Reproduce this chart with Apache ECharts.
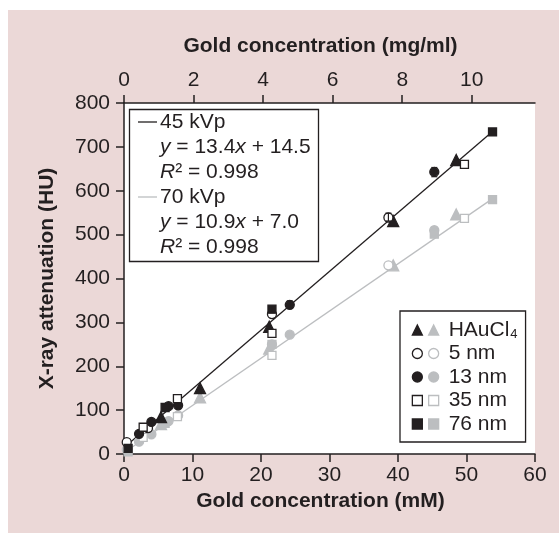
<!DOCTYPE html>
<html><head><meta charset="utf-8">
<script src="https://cdn.jsdelivr.net/npm/echarts@6/dist/echarts.min.js"></script>
<style>html,body{margin:0;padding:0;background:#fff}#c{width:559px;height:533px}</style>
</head><body><div id="c"></div>
<script>
// ---------- data (mM, HU) ----------
const yTicks = [0, 100, 200, 300, 400, 500, 600, 700, 800];
const mMTicks = [0, 10, 20, 30, 40, 50, 60];
const mgTicks = [0, 2, 4, 6, 8, 10];
const mgPerMM = 0.19697; // gold: 196.97 g/mol

// 45 kVp (black)
const hauX45 = [5.4, 11.1, 21.2, 39.3, 48.5];
const hauY45 = [84, 150, 290, 531, 670];
const nm5X45 = [0.4, 3.5, 21.6, 38.6];
const nm5Y45 = [27, 59, 319, 539];
const nm13X45 = [2.2, 4.0, 6.5, 7.9, 24.2, 45.3];
const nm13Y45 = [46, 73, 109, 111, 340, 643];
const nm35X45 = [2.8, 7.8, 21.6, 49.7];
const nm35Y45 = [61, 126, 275, 660];
const nm76X45 = [0.6, 6.0, 21.6, 53.8];
const nm76Y45 = [13, 106, 330, 734];

// 70 kVp (grey)
const hauX70 = [5.4, 11.1, 21.2, 39.3, 48.5];
const hauY70 = [68, 129, 240, 430, 546];
const nm5X70 = [0.4, 3.5, 21.6, 38.6];
const nm5Y70 = [10, 50, 250, 430];
const nm13X70 = [2.2, 4.0, 6.5, 7.9, 24.2, 45.3];
const nm13Y70 = [28, 45, 75, 88, 272, 510];
const nm35X70 = [2.8, 7.8, 21.6, 49.7];
const nm35Y70 = [38, 85, 225, 537];
const nm76X70 = [0.6, 6.0, 21.6, 45.3, 53.8];
const nm76Y70 = [5, 70, 250, 501, 580];

// fitted lines (end points)
const fit45X = [0.2, 53.8];
const fit45Y = [17, 735];
const fit70X = [0.2, 53.8];
const fit70Y = [5, 582];

// error bars
const err45X = [21.6, 24.2, 38.6, 45.3];
const err45Lo = [322, 332, 531, 632];
const err45Hi = [337, 349, 549, 653];
const err70X = [45.3];
const err70Lo = [496];
const err70Hi = [516];

const legendLabels = ['HAuCl{sub|4}', '5 nm', '13 nm', '35 nm', '76 nm'];

// ---------- styling ----------
const FONT = '"Liberation Sans", Arial, Helvetica, sans-serif';
const INK = '#231f20';
const GREY = '#bcbec0';
const PINK = '#ebd8d7';
const FS = 21;

function pts(xs, ys) { return xs.map((x, i) => [x, ys[i]]); }

function scat(name, xs, ys, symbol, size, color, open) {
  return {
    type: 'scatter', name: name, data: pts(xs, ys), symbol: symbol, symbolSize: size,
    xAxisIndex: 0, yAxisIndex: 0, z: color === INK ? 4 : 3,
    itemStyle: { color: open ? '#ffffff' : color, borderColor: color, borderWidth: 1.3, opacity: 1 },
    emphasis: { disabled: true }
  };
}
function fitLine(name, xs, ys, color) {
  return {
    type: 'line', name: name, data: pts(xs, ys), symbol: 'none', z: 2,
    lineStyle: { color: color, width: 1.3 }, emphasis: { disabled: true }
  };
}
function errBars(name, xs, lo, hi, color) {
  return {
    type: 'custom', name: name, z: 5,
    data: xs.map((x, i) => [x, lo[i], hi[i]]),
    renderItem: function (params, api) {
      const a = api.coord([api.value(0), api.value(1)]);
      const b = api.coord([api.value(0), api.value(2)]);
      const w = 3;
      const st = { stroke: color, lineWidth: 1.2 };
      return { type: 'group', children: [
        { type: 'line', shape: { x1: a[0], y1: a[1], x2: b[0], y2: b[1] }, style: st },
        { type: 'line', shape: { x1: a[0] - w, y1: a[1], x2: a[0] + w, y2: a[1] }, style: st },
        { type: 'line', shape: { x1: b[0] - w, y1: b[1], x2: b[0] + w, y2: b[1] }, style: st }
      ]};
    }
  };
}

const blackNames = ['b0', 'b1', 'b2', 'b3', 'b4'];
const greyNames = ['g0', 'g1', 'g2', 'g3', 'g4'];

const series = [
  fitLine('fit70', fit70X, fit70Y, GREY),
  fitLine('fit45', fit45X, fit45Y, INK),
  scat('g0', hauX70, hauY70, 'triangle', 11, GREY, false),
  scat('g1', nm5X70, nm5Y70, 'circle', 9, GREY, true),
  scat('g2', nm13X70, nm13Y70, 'circle', 9, GREY, false),
  scat('g3', nm35X70, nm35Y70, 'rect', 8, GREY, true),
  scat('g4', nm76X70, nm76Y70, 'rect', 8, GREY, false),
  errBars('e70', err70X, err70Lo, err70Hi, GREY),
  scat('b0', hauX45, hauY45, 'triangle', 11, INK, false),
  scat('b1', nm5X45, nm5Y45, 'circle', 9, INK, true),
  scat('b2', nm13X45, nm13Y45, 'circle', 9, INK, false),
  scat('b3', nm35X45, nm35Y45, 'rect', 8, INK, true),
  scat('b4', nm76X45, nm76Y45, 'rect', 8, INK, false),
  errBars('e45', err45X, err45Lo, err45Hi, INK)
];

function legendText(color) {
  return {
    fontFamily: FONT, fontSize: FS, color: color, lineHeight: 22, padding: [0, 0, 0, 5],
    rich: { sub: { fontFamily: FONT, fontSize: 13, color: color, verticalAlign: 'bottom', lineHeight: 22, padding: [9, 0, 0, 1] } }
  };
}
function legendFmt(name) { return legendLabels[Number(name.slice(1))]; }

const axisLineStyle = { color: INK, width: 1.5 };
const labelStyle = { fontFamily: FONT, fontSize: FS, color: INK };
const nameStyle = { fontFamily: FONT, fontSize: FS, fontWeight: 'bold', color: INK };
const xNameStyle = { ...nameStyle, padding: [0, 18, 0, 0] };
const italic = { i: { fontStyle: 'italic', fontFamily: FONT, fontSize: FS, fill: INK } };

const option = {
  animation: false,
  backgroundColor: '#ffffff',
  grid: { left: 124, top: 103, right: 24, bottom: 79, show: true, backgroundColor: '#ffffff', borderWidth: 0, containLabel: false },
  xAxis: [
    {
      type: 'value', position: 'bottom', min: mMTicks[0], max: mMTicks[mMTicks.length - 1], interval: 10,
      name: 'Gold concentration (mM)', nameLocation: 'middle', nameGap: 33, nameTextStyle: xNameStyle,
      axisLine: { show: true, onZero: false, lineStyle: axisLineStyle },
      axisTick: { show: true, length: 8, lineStyle: axisLineStyle },
      axisLabel: { margin: 11, ...labelStyle },
      splitLine: { show: false }
    },
    {
      type: 'value', position: 'top', min: 0, max: mMTicks[mMTicks.length - 1] * mgPerMM,
      name: 'Gold concentration (mg/ml)', nameLocation: 'middle', nameGap: 46, nameTextStyle: xNameStyle,
      axisLine: { show: true, onZero: false, lineStyle: axisLineStyle },
      axisTick: { show: true, length: 8, lineStyle: axisLineStyle, customValues: mgTicks },
      axisLabel: { margin: 12, ...labelStyle, customValues: mgTicks },
      splitLine: { show: false }
    }
  ],
  yAxis: {
    type: 'value', min: yTicks[0], max: yTicks[yTicks.length - 1], interval: 100,
    name: 'X-ray attenuation (HU)', nameLocation: 'middle', nameGap: 66, nameTextStyle: nameStyle,
    axisLine: { show: true, onZero: false, lineStyle: axisLineStyle },
    axisTick: { show: true, length: 8, lineStyle: axisLineStyle },
    axisLabel: { margin: 14, ...labelStyle },
    splitLine: { show: false }
  },
  legend: [
    {
      data: greyNames, orient: 'vertical', left: 400, top: 311, padding: [8, 8, 7, 28],
      itemWidth: 10, itemHeight: 10, itemGap: 1.5, selectedMode: false,
      borderColor: INK, borderWidth: 1.3, backgroundColor: '#ffffff',
      formatter: legendFmt, textStyle: legendText(INK),
      itemStyle: { borderWidth: 1.3 }, z: 6
    },
    {
      data: blackNames, orient: 'vertical', left: 411.7, top: 311, padding: [8, 0, 7, 0],
      itemWidth: 10, itemHeight: 10, itemGap: 1.5, selectedMode: false,
      formatter: legendFmt, textStyle: legendText('rgba(0,0,0,0)'),
      itemStyle: { borderWidth: 1.3 }, z: 7
    }
  ],
  graphic: [
    { type: 'rect', z: -10, silent: true, shape: { x: 8, y: 10, width: 551, height: 523 }, style: { fill: PINK } },
    { type: 'group', z: 20, silent: true, children: [
      { type: 'rect', shape: { x: 129.5, y: 109.5, width: 189, height: 152 }, style: { fill: '#ffffff', stroke: INK, lineWidth: 1.3 } },
      { type: 'line', shape: { x1: 138, y1: 122, x2: 157, y2: 122 }, style: { stroke: INK, lineWidth: 1.3 } },
      { type: 'line', shape: { x1: 138, y1: 197, x2: 157, y2: 197 }, style: { stroke: GREY, lineWidth: 1.3 } },
      { type: 'text', x: 160, y: 122, style: { text: '45 kVp', font: FS + 'px ' + FONT, fill: INK, verticalAlign: 'middle' } },
      { type: 'text', x: 160, y: 147, style: { text: '{i|y} = 13.4{i|x} + 14.5', font: FS + 'px ' + FONT, fill: INK, verticalAlign: 'middle', rich: italic } },
      { type: 'text', x: 160, y: 172, style: { text: '{i|R}² = 0.998', font: FS + 'px ' + FONT, fill: INK, verticalAlign: 'middle', rich: italic } },
      { type: 'text', x: 160, y: 197, style: { text: '70 kVp', font: FS + 'px ' + FONT, fill: INK, verticalAlign: 'middle' } },
      { type: 'text', x: 160, y: 222, style: { text: '{i|y} = 10.9{i|x} + 7.0', font: FS + 'px ' + FONT, fill: INK, verticalAlign: 'middle', rich: italic } },
      { type: 'text', x: 160, y: 247, style: { text: '{i|R}² = 0.998', font: FS + 'px ' + FONT, fill: INK, verticalAlign: 'middle', rich: italic } }
    ]}
  ],
  series: series
};

const chart = echarts.init(document.getElementById('c'), null, { renderer: 'canvas' });
chart.setOption(option);
</script></body></html>
